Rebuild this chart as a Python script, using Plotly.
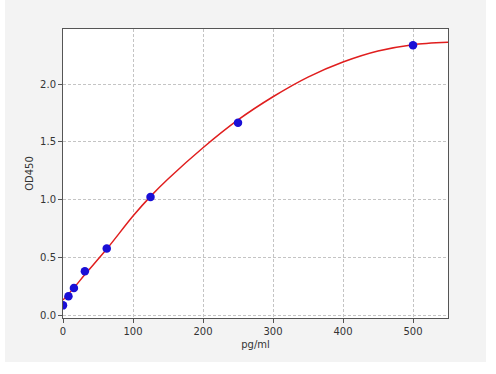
import plotly.graph_objects as go

# Standard points
conc = [0, 7.8, 15.6, 31.25, 62.5, 125, 250, 500]
od = [0.089, 0.167, 0.239, 0.383, 0.581, 1.024, 1.665, 2.334]

# Fitted curve
curve_x = [0, 15.6, 31.25, 62.5, 100, 125, 150, 200, 250, 300, 350, 400, 450, 500, 550]
curve_y = [0.135, 0.24, 0.355, 0.575, 0.86, 1.03, 1.18, 1.45, 1.69, 1.89, 2.06, 2.19, 2.285, 2.34, 2.36]

x_ticks = [0, 100, 200, 300, 400, 500]
y_ticks = [0.0, 0.5, 1.0, 1.5, 2.0]

fig = go.Figure()
fig.add_trace(go.Scatter(x=curve_x, y=curve_y, mode="lines",
                         line=dict(color="#e01e1e", width=1.5, shape="spline", smoothing=0.8),
                         showlegend=False, hoverinfo="skip"))
fig.add_trace(go.Scatter(x=conc, y=od, mode="markers",
                         marker=dict(color="#1a0fd6", size=8.5),
                         showlegend=False))

axis_common = dict(showline=True, linecolor="#555555", linewidth=1, mirror=True,
                   ticks="outside", ticklen=4, tickcolor="#555555",
                   showgrid=True, gridcolor="#c4c4c4", griddash="3px,2px", gridwidth=1,
                   zeroline=False, tickfont=dict(family="DejaVu Sans", size=10, color="#333333"))

fig.update_layout(
    width=496, height=374,
    margin=dict(l=63, r=48, t=29, b=56),
    paper_bgcolor="#f3f3f3", plot_bgcolor="white",
    xaxis=dict(range=[0, 550], tickvals=x_ticks,
               title=dict(text="pg/ml", font=dict(family="DejaVu Sans", size=10, color="#333333"), standoff=4),
               **axis_common),
    yaxis=dict(range=[-0.02, 2.475], tickvals=y_ticks, tickformat=".1f",
               title=dict(text="OD450", font=dict(family="DejaVu Sans", size=10, color="#333333"), standoff=4),
               **axis_common),
    shapes=[
        dict(type="rect", xref="paper", yref="paper", x0=(486-63)/385, x1=(496-63)/385 + 0.05,
             y0=-1, y1=2, fillcolor="white", line=dict(width=0), layer="above"),
        dict(type="rect", xref="paper", yref="paper", x0=-1, x1=2,
             y0=(318-374)/289 - 0.05, y1=(318-362)/289, fillcolor="white", line=dict(width=0), layer="above"),
        dict(type="rect", xref="paper", yref="paper", x0=-63/385 - 0.05, x1=(5-63)/385,
             y0=-1, y1=2, fillcolor="white", line=dict(width=0), layer="above"),
    ],
)

fig.write_html("out.html")
